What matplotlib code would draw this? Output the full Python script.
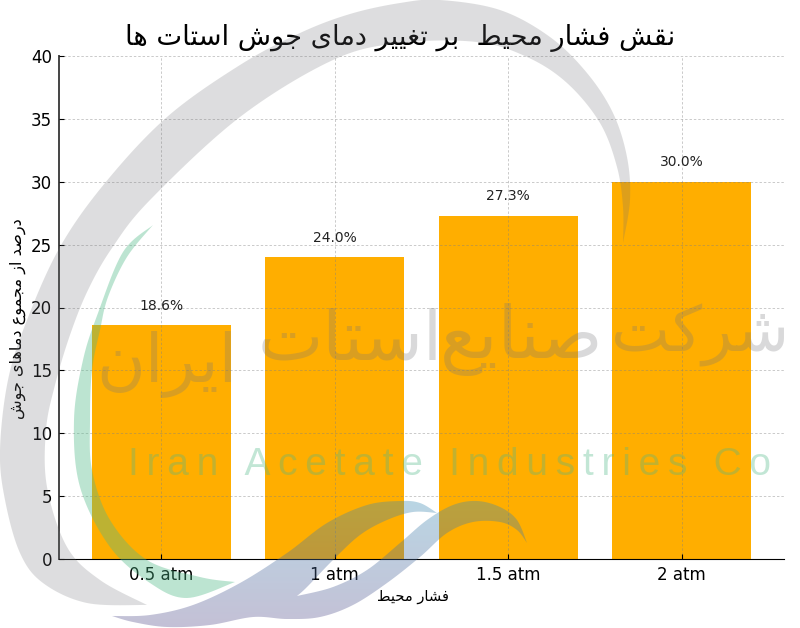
import numpy as np
import matplotlib
matplotlib.use("Agg")
import matplotlib.pyplot as plt
from matplotlib.patches import Polygon

# chart data
pressures = ["0.5 atm", "1 atm", "1.5 atm", "2 atm"]
boiling_share = [18.6, 24.0, 27.3, 30.0]
y_ticks = [0, 5, 10, 15, 20, 25, 30, 35, 40]

title_text = "نقش فشار محیط  بر تغییر دمای جوش استات ها"
x_label_text = "فشار محیط"
y_label_text = "درصد از مجموع دماهای جوش"
logo_words = ["شرکت", "صنایع", "استات", "ایران"]
logo_latin = "Iran Acetate Industries Co"

# Arabic presentation forms: isolated, final, initial, medial
FORMS = {
    "ا": (0xFE8D, 0xFE8E), "د": (0xFEA9, 0xFEAA), "ر": (0xFEAD, 0xFEAE),
    "ز": (0xFEAF, 0xFEB0), "و": (0xFEED, 0xFEEE),
    "ب": (0xFE8F, 0xFE90, 0xFE91, 0xFE92), "ت": (0xFE95, 0xFE96, 0xFE97, 0xFE98),
    "ج": (0xFE9D, 0xFE9E, 0xFE9F, 0xFEA0), "ح": (0xFEA1, 0xFEA2, 0xFEA3, 0xFEA4),
    "س": (0xFEB1, 0xFEB2, 0xFEB3, 0xFEB4), "ش": (0xFEB5, 0xFEB6, 0xFEB7, 0xFEB8),
    "ص": (0xFEB9, 0xFEBA, 0xFEBB, 0xFEBC), "ط": (0xFEC1, 0xFEC2, 0xFEC3, 0xFEC4),
    "ع": (0xFEC9, 0xFECA, 0xFECB, 0xFECC), "غ": (0xFECD, 0xFECE, 0xFECF, 0xFED0),
    "ف": (0xFED1, 0xFED2, 0xFED3, 0xFED4), "ق": (0xFED5, 0xFED6, 0xFED7, 0xFED8),
    "ک": (0xFB8E, 0xFB8F, 0xFB90, 0xFB91), "م": (0xFEE1, 0xFEE2, 0xFEE3, 0xFEE4),
    "ن": (0xFEE5, 0xFEE6, 0xFEE7, 0xFEE8), "ه": (0xFEE9, 0xFEEA, 0xFEEB, 0xFEEC),
    "ی": (0xFBFC, 0xFBFD, 0xFBFE, 0xFBFF),
}


def shape(text):
    """matplotlib does no Arabic shaping, so join the letters and reverse them."""
    out = []
    for i, ch in enumerate(text):
        if ch not in FORMS:
            out.append(ch)
            continue
        prev = text[i - 1] if i > 0 else " "
        nxt = text[i + 1] if i + 1 < len(text) else " "
        joins_prev = prev in FORMS and len(FORMS[prev]) == 4
        joins_next = nxt in FORMS and len(FORMS[ch]) == 4
        idx = {(False, False): 0, (True, False): 1, (False, True): 2, (True, True): 3}[(joins_prev, joins_next)]
        out.append(chr(FORMS[ch][idx]))
    return "".join(out)[::-1]


def smooth(points, n=14):
    """Catmull-Rom through the outline points of a watermark shape."""
    p = np.array(points, dtype=float)
    p = np.vstack([p[0], p, p[-1]])
    res = []
    for i in range(1, len(p) - 2):
        for t in np.linspace(0, 1, n, endpoint=False):
            res.append(0.5 * (2 * p[i] + (p[i + 1] - p[i - 1]) * t
                              + (2 * p[i - 1] - 5 * p[i] + 4 * p[i + 1] - p[i + 2]) * t ** 2
                              + (3 * p[i] - p[i - 1] - 3 * p[i + 1] + p[i + 2]) * t ** 3))
    res.append(p[-2])
    return np.array(res)


fig = plt.figure(figsize=(8, 6.28), dpi=100)
ax = fig.add_axes([59 / 800, 1 - 559 / 628, (784 - 59) / 800, (559 - 56) / 628])

x = np.arange(len(pressures))
ax.bar(x, boiling_share, width=0.8, color="#FFAE00", zorder=2)
ax.grid(True, linestyle=(0, (2.5, 2)), color="gray", alpha=0.42, linewidth=0.7, zorder=3)
ax.set_axisbelow(False)
for i, v in enumerate(boiling_share):
    ax.text(i, v + 1, f"{v:.1f}%", ha="center", va="bottom", fontsize=10, color="#222222", zorder=4)

ax.set_xlim(-0.59, 3.59)
ax.set_ylim(0, 40)
ax.set_xticks(x)
ax.set_xticklabels(pressures)
ax.set_yticks(y_ticks)
ax.tick_params(axis="both", direction="in", labelsize=12, pad=5)
ax.spines["top"].set_visible(False)
ax.spines["right"].set_visible(False)
ax.spines["left"].set_linewidth(1.4)
ax.spines["left"].set_color("#444444")

fig.text(0.5, 1 - 38 / 628, shape(title_text), ha="center", va="center", fontsize=19.6)
fig.text(413 / 800, 1 - 597 / 628, shape(x_label_text), ha="center", va="center", fontsize=10.5)
fig.text(18 / 800, 1 - 319 / 628, shape(y_label_text), ha="center", va="center", rotation=90, fontsize=11.6)

# watermark, in pixel coordinates of the image
wm = fig.add_axes([0, 0, 1, 1], zorder=5)
wm.axis("off")
wm.patch.set_alpha(0)

grey_outer = [(147, 605), (87, 603), (43, 583), (20, 553), (5, 500), (0, 450), (8, 380), (27, 320), (60, 247),
              (105, 183), (167, 117), (240, 65), (300, 33), (350, 14), (400, 3), (440, 0), (500, 10), (550, 37),
              (587, 73), (613, 113), (627, 157), (630, 200), (623, 243)]
grey_inner = [(623, 243), (623, 207), (617, 167), (600, 123), (567, 83), (527, 57), (477, 42), (400, 43), (333, 60),
              (240, 117), (150, 200), (112, 248), (88, 290), (70, 335), (55, 385), (46, 430), (47, 487), (67, 547),
              (100, 580), (147, 605)]
green_outer = [(153, 225), (123, 252), (98, 313), (83, 360), (74, 420), (80, 487), (110, 547), (150, 583),
               (187, 598), (235, 582)]
green_inner = [(235, 582), (200, 577), (147, 560), (110, 520), (92, 470), (90, 420), (92, 370), (100, 330),
               (108, 297), (127, 257), (153, 225)]
swoosh_top = [(112, 616), (150, 615), (193, 605), (240, 583), (287, 553), (327, 523), (367, 505), (400, 501),
              (420, 503), (437, 513)]
swoosh_gap_a = [(437, 513), (413, 512), (387, 520), (360, 535), (333, 560), (307, 587), (297, 596)]
swoosh_gap_b = [(297, 596), (333, 587), (367, 570), (400, 543), (427, 520), (453, 505), (477, 501), (500, 507),
                (517, 520), (527, 543)]
swoosh_bottom = [(527, 543), (517, 530), (500, 522), (473, 522), (447, 533), (420, 557), (387, 583), (353, 605),
                 (320, 617), (287, 619), (253, 617), (210, 625), (167, 627), (133, 622), (112, 616)]

wm.add_patch(Polygon(np.vstack([smooth(grey_outer), smooth(grey_inner)]), closed=True,
                     facecolor="#6f7075", alpha=0.23, edgecolor="none"))
wm.add_patch(Polygon(np.vstack([smooth(green_outer), smooth(green_inner)]), closed=True,
                     facecolor="#50b987", alpha=0.38, edgecolor="none"))

# blue swoosh fades from light blue at the top to violet at the bottom
swoosh = Polygon(np.vstack([smooth(swoosh_top), smooth(swoosh_gap_a), smooth(swoosh_gap_b), smooth(swoosh_bottom)]),
                 closed=True, facecolor="none", edgecolor="none")
wm.add_patch(swoosh)
fade = np.linspace(0, 1, 64)[:, None]
rgba = np.zeros((64, 1, 4))
rgba[..., 0] = (60 + 30 * fade) / 255
rgba[..., 1] = (140 - 60 * fade) / 255
rgba[..., 2] = (180 - 40 * fade) / 255
rgba[..., 3] = 0.36
img = wm.imshow(rgba, extent=(100, 540, 628, 500), aspect="auto", interpolation="bilinear")
img.set_clip_path(swoosh)

wm.set_xlim(0, 800)
wm.set_ylim(628, 0)

for word, px, py, size in zip(logo_words, [700, 522, 350, 167], [335, 340, 340, 365], [45, 52, 50, 48]):
    wm.text(px, py, shape(word), ha="center", va="center", fontsize=size, color="#77777a", alpha=0.28)

wm.text(449, 465, "\u2009".join(logo_latin), ha="center", va="center", fontsize=28,
        family=["Liberation Sans", "DejaVu Sans"], color="#50b987", alpha=0.35)

fig.savefig("out.png", dpi=100)
